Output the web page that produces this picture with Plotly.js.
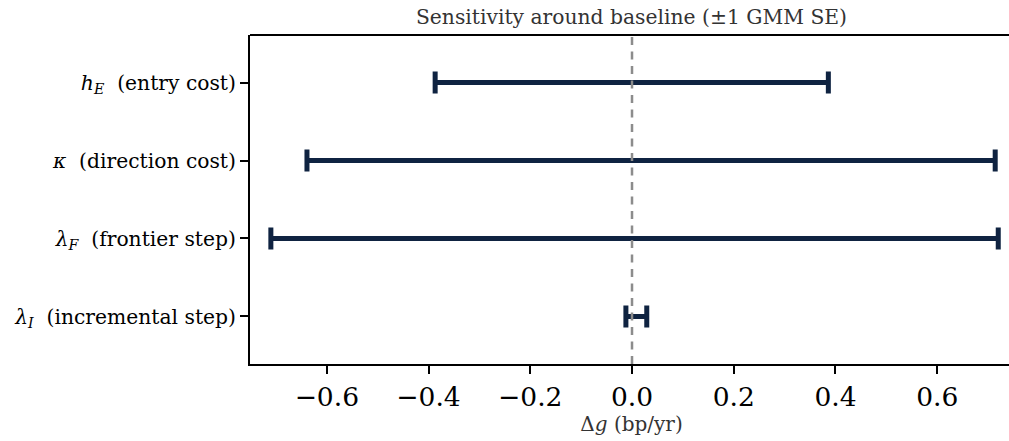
<!DOCTYPE html>
<html>
<head>
<meta charset="utf-8">
<script src="https://cdn.plot.ly/plotly-3.0.1.min.js"></script>
<style>html,body{margin:0;padding:0;overflow:hidden;background:#fff;}#chart{width:1013px;height:441px;}</style>
</head>
<body>
<div id="chart"></div>
<script>
// Parameter labels (top to bottom)
const paramLabels = [
  "<i>h<sub>E</sub></i>\u00a0\u00a0(entry cost)",
  "<i>κ</i>\u00a0\u00a0(direction cost)",
  "<i>λ<sub>F</sub></i>\u00a0\u00a0(frontier step)",
  "<i>λ<sub>I</sub></i>\u00a0\u00a0(incremental step)"
];
// Lower and upper ends of the ±1 SE range (Δg, bp/yr)
const lowVals  = [-0.387, -0.639, -0.710, -0.012];
const highVals = [ 0.386,  0.714,  0.720,  0.029];
const xTicks = [-0.6, -0.4, -0.2, 0.0, 0.2, 0.4, 0.6];
const xTickText = ["\u22120.6", "\u22120.4", "\u22120.2", "0.0", "0.2", "0.4", "0.6"];

const yPos = paramLabels.map((_, i) => i);
const centers = lowVals.map((lo, i) => (lo + highVals[i]) / 2);
const halfW = lowVals.map((lo, i) => (highVals[i] - lo) / 2);

const navy = "#0f2341";
const trace = {
  type: "scatter",
  mode: "markers",
  x: centers,
  y: yPos,
  marker: {size: 0.1, color: navy, opacity: 0},
  error_x: {type: "data", array: halfW, visible: true, color: navy, thickness: 5, width: 11},
  hoverinfo: "skip",
  showlegend: false
};

const layout = {
  width: 1013, height: 441,
  margin: {l: 250, r: 0, t: 35, b: 77},
  paper_bgcolor: "#fff", plot_bgcolor: "#fff",
  font: {family: "DejaVu Serif, serif", color: "#000"},
  title: {
    text: "Sensitivity around baseline (±1 GMM SE)",
    font: {family: "DejaVu Serif, serif", size: 20.3, color: "#333"},
    xref: "paper", x: 0.5, xanchor: "center",
    yref: "container", y: 0.962, yanchor: "middle"
  },
  xaxis: {
    range: [-0.751, 0.749],
    tickvals: xTicks, ticktext: xTickText,
    tickfont: {size: 26.5, family: "DejaVu Serif, serif", color: "#000"},
    ticks: "outside", ticklen: 8, tickwidth: 2, tickcolor: "#000",
    showline: true, linecolor: "#000", linewidth: 2,
    showgrid: false, zeroline: false,
    title: {text: "Δ<i>g</i> (bp/yr)", font: {size: 20, color: "#333", family: "DejaVu Serif, serif"}, standoff: 4}
  },
  yaxis: {
    range: [3.61, -0.61],
    tickvals: yPos, ticktext: paramLabels,
    tickfont: {size: 20.3, family: "DejaVu Serif, serif", color: "#000"},
    ticks: "outside", ticklen: 8, tickwidth: 2, tickcolor: "#000",
    showline: true, linecolor: "#000", linewidth: 2,
    showgrid: false, zeroline: false
  },
  shapes: [
    {type: "line", xref: "x", yref: "paper", x0: 0, x1: 0, y0: 0, y1: 1,
     line: {color: "#8c8c8c", width: 2.5, dash: "8px,6.5px"}, layer: "above"},
    {type: "line", xref: "paper", yref: "paper", x0: 0, x1: 1, y0: 1, y1: 1,
     line: {color: "#000", width: 2}, layer: "above"}
  ]
};

Plotly.newPlot("chart", [trace], layout, {displayModeBar: false, staticPlot: true});
</script>
</body>
</html>
